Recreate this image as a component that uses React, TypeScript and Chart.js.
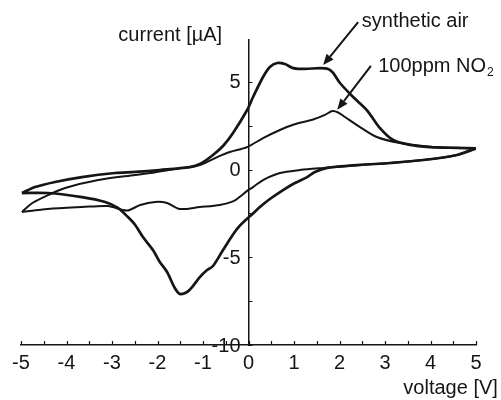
import React, { useEffect, useRef } from "react";
import { Chart, registerables } from "chart.js";

Chart.register(...registerables);

// ---- Data (voltage [V], current [µA]) ----
// synthetic air: forward sweep (-5 -> 5 V)
const airForwardV = [-4.98, -4.69, -4.25, -3.66, -2.93, -2.49, -1.95, -1.29, -1.07, -0.78, -0.56, -0.34, -0.03, 0.10, 0.32, 0.47, 0.63, 0.80, 0.98, 1.24, 1.57, 1.75, 1.86, 2.01, 2.30, 2.60, 2.89, 3.18, 3.55, 3.99, 4.58, 5.00];
const airForwardI = [-1.34, -1.00, -0.71, -0.43, -0.20, -0.14, -0.03, 0.14, 0.31, 0.83, 1.34, 2.08, 3.39, 4.13, 5.27, 5.84, 6.07, 6.01, 5.78, 5.73, 5.78, 5.73, 5.50, 4.93, 4.13, 3.39, 2.36, 1.68, 1.40, 1.28, 1.23, 1.20];
// synthetic air: reverse sweep (5 -> -5 V)
const airReverseV = [5.00, 4.58, 3.84, 3.11, 2.45, 1.73, 1.46, 1.29, 1.02, 0.76, 0.47, 0.25, 0.10, -0.03, -0.19, -0.34, -0.56, -0.78, -0.91, -1.07, -1.24, -1.35, -1.51, -1.62, -1.79, -1.95, -2.10, -2.32, -2.49, -2.65, -2.87, -3.15, -3.66, -4.41, -4.98];
const airReverseI = [1.20, 0.83, 0.54, 0.37, 0.26, 0.09, -0.14, -0.43, -0.77, -1.17, -1.68, -2.14, -2.50, -2.80, -3.20, -3.70, -4.59, -5.50, -5.73, -6.13, -6.70, -6.98, -7.09, -6.75, -5.84, -5.27, -4.59, -3.85, -3.16, -2.71, -2.19, -1.85, -1.57, -1.34, -1.34];

// 100ppm NO2: forward sweep
const no2ForwardV = [-4.98, -4.75, -4.40, -4.03, -3.30, -2.49, -2.16, -1.62, -1.07, -0.69, -0.41, -0.03, 0.32, 0.69, 0.98, 1.42, 1.68, 1.84, 1.97, 2.12, 2.45, 2.82, 3.33, 4.05, 5.00];
const no2ForwardI = [-2.42, -1.91, -1.45, -1.05, -0.60, -0.31, -0.20, 0.03, 0.26, 0.71, 1.00, 1.28, 1.79, 2.25, 2.55, 2.85, 3.11, 3.33, 3.25, 2.99, 2.42, 1.85, 1.51, 1.28, 1.20];
// 100ppm NO2: reverse sweep
const no2ReverseV = [5.00, 4.58, 3.84, 3.11, 2.45, 1.64, 1.13, 0.69, 0.32, 0.10, -0.03, -0.19, -0.34, -0.63, -1.07, -1.51, -1.79, -2.05, -2.38, -2.67, -3.09, -3.66, -4.41, -4.98];
const no2ReverseI = [1.20, 0.83, 0.54, 0.37, 0.26, 0.09, -0.03, -0.20, -0.60, -1.00, -1.22, -1.55, -1.82, -2.02, -2.14, -2.25, -1.91, -1.85, -2.02, -2.34, -2.08, -2.14, -2.25, -2.42];

// Axis ranges & ticks
const xMin = -5;
const xMax = 5;
const yMin = -10;
const yMax = 7.38;
const yTickLabels = [5, 0, -5, -10];
const xMinorTicks = [-5, -4.5, -4, -3.5, -3, -2.5, -2, -1.5, -1, -0.5, 0, 0.5, 1, 1.5, 2, 2.5, 3, 3.5, 4, 4.5, 5];
const yMinorTicks = [-10, -7.5, -5, -2.5, 0, 2.5, 5];

// Text labels
const yAxisLabel = "current [µA]";
const xAxisLabel = "voltage [V]";
const airLabel = "synthetic air";
const no2Label = "100ppm NO";
const no2Sub = "2";

const INK = "#151515";
const FONT = "'Liberation Sans', Arial, Helvetica, sans-serif";

const toPoints = (vs: number[], is: number[]) => vs.map((v, k) => ({ x: v, y: is[k] }));

function drawArrow(ctx: CanvasRenderingContext2D, x1: number, y1: number, x2: number, y2: number) {
  const ang = Math.atan2(y2 - y1, x2 - x1);
  const hl = 11;
  const hw = 4.5;
  const bx = x2 - hl * Math.cos(ang);
  const by = y2 - hl * Math.sin(ang);
  ctx.beginPath();
  ctx.moveTo(x1, y1);
  ctx.lineTo(bx, by);
  ctx.lineWidth = 2;
  ctx.strokeStyle = INK;
  ctx.stroke();
  ctx.beginPath();
  ctx.moveTo(x2, y2);
  ctx.lineTo(bx + hw * Math.sin(ang), by - hw * Math.cos(ang));
  ctx.lineTo(bx - hw * Math.sin(ang), by + hw * Math.cos(ang));
  ctx.closePath();
  ctx.fillStyle = INK;
  ctx.fill();
}

const annotationPlugin = {
  id: "cvAnnotations",
  afterDraw(chart: any) {
    const { ctx } = chart;
    const xs = chart.scales.x;
    const ys = chart.scales.y;
    const px = (v: number) => xs.getPixelForValue(v);
    const py = (v: number) => ys.getPixelForValue(v);
    ctx.save();
    // inward tick marks
    ctx.strokeStyle = INK;
    ctx.lineWidth = 1.2;
    const x0 = px(0);
    const yb = py(yMin);
    ctx.beginPath();
    xMinorTicks.forEach((v) => {
      const X = Math.round(px(v)) + 0.5;
      ctx.moveTo(X, yb);
      ctx.lineTo(X, yb - 4);
    });
    yMinorTicks.forEach((v) => {
      const Y = Math.round(py(v)) + 0.5;
      ctx.moveTo(x0, Y);
      ctx.lineTo(x0 + 4, Y);
    });
    ctx.stroke();

    // y tick labels (left of the centred axis)
    ctx.fillStyle = INK;
    ctx.font = `20px ${FONT}`;
    ctx.textAlign = "right";
    ctx.textBaseline = "middle";
    yTickLabels.forEach((v) => {
      ctx.fillText(String(v), x0 - 8, py(v) + 1);
    });

    // texts
    ctx.textBaseline = "alphabetic";
    ctx.textAlign = "center";
    ctx.fillText(yAxisLabel, px(-1.72), py(7.32));
    ctx.textAlign = "right";
    ctx.fillText(xAxisLabel, px(5.48), py(-12.8));
    ctx.textAlign = "left";
    ctx.fillText(airLabel, px(2.49), py(8.12));
    ctx.fillText(no2Label, px(2.85), py(5.56));
    const w = ctx.measureText(no2Label).width;
    ctx.font = `12px ${FONT}`;
    ctx.fillText(no2Sub, px(2.85) + w + 1, py(5.56) + 4);

    // arrows
    drawArrow(ctx, px(2.41), py(8.4), px(1.64), py(5.95));
    drawArrow(ctx, px(2.69), py(5.9), px(1.95), py(3.4));
    ctx.restore();
  },
};

export default function App() {
  const canvasRef = useRef<HTMLCanvasElement | null>(null);

  useEffect(() => {
    const canvas = canvasRef.current;
    if (!canvas) return;
    const airPoints = [...toPoints(airForwardV, airForwardI), ...toPoints(airReverseV, airReverseI)];
    const no2Points = [...toPoints(no2ForwardV, no2ForwardI), ...toPoints(no2ReverseV, no2ReverseI)];

    const chart = new Chart(canvas, {
      type: "scatter",
      data: {
        datasets: [
          {
            label: airLabel,
            data: airPoints,
            showLine: true,
            borderColor: INK,
            borderWidth: 2.7,
            pointRadius: 0,
            tension: 0.3,
          },
          {
            label: no2Label + no2Sub,
            data: no2Points,
            showLine: true,
            borderColor: INK,
            borderWidth: 2.0,
            pointRadius: 0,
            tension: 0.3,
          },
        ],
      },
      options: {
        responsive: false,
        animation: false,
        events: [],
        layout: { padding: { left: 21, right: 25, top: 40, bottom: 0 } },
        plugins: {
          legend: { display: false },
          tooltip: { enabled: false },
        },
        scales: {
          x: {
            type: "linear",
            position: "bottom",
            min: xMin,
            max: xMax,
            grid: { display: true, drawOnChartArea: false, drawTicks: false },
            border: { display: true, color: INK, width: 1.5 },
            ticks: {
              stepSize: 1,
              includeBounds: false,
              maxRotation: 0,
              autoSkip: false,
              padding: 6,
              color: INK,
              font: { family: FONT, size: 20 },
            },
            afterFit: (scale: any) => {
              scale.height = 55;
            },
          },
          y: {
            type: "linear",
            position: { x: 0 } as any,
            min: yMin,
            max: yMax,
            grid: { display: true, drawOnChartArea: false, drawTicks: false },
            border: { display: true, color: INK, width: 1.5 },
            ticks: {
              display: false,
              stepSize: 5,
              includeBounds: false,
            },
          },
        },
      },
      plugins: [annotationPlugin],
    });
    return () => chart.destroy();
  }, []);

  return (
    <div style={{ position: "absolute", left: 0, top: 0, width: 501, height: 400, background: "#fff" }}>
      <canvas ref={canvasRef} width={501} height={400} style={{ display: "block", width: 501, height: 400 }} />
    </div>
  );
}
